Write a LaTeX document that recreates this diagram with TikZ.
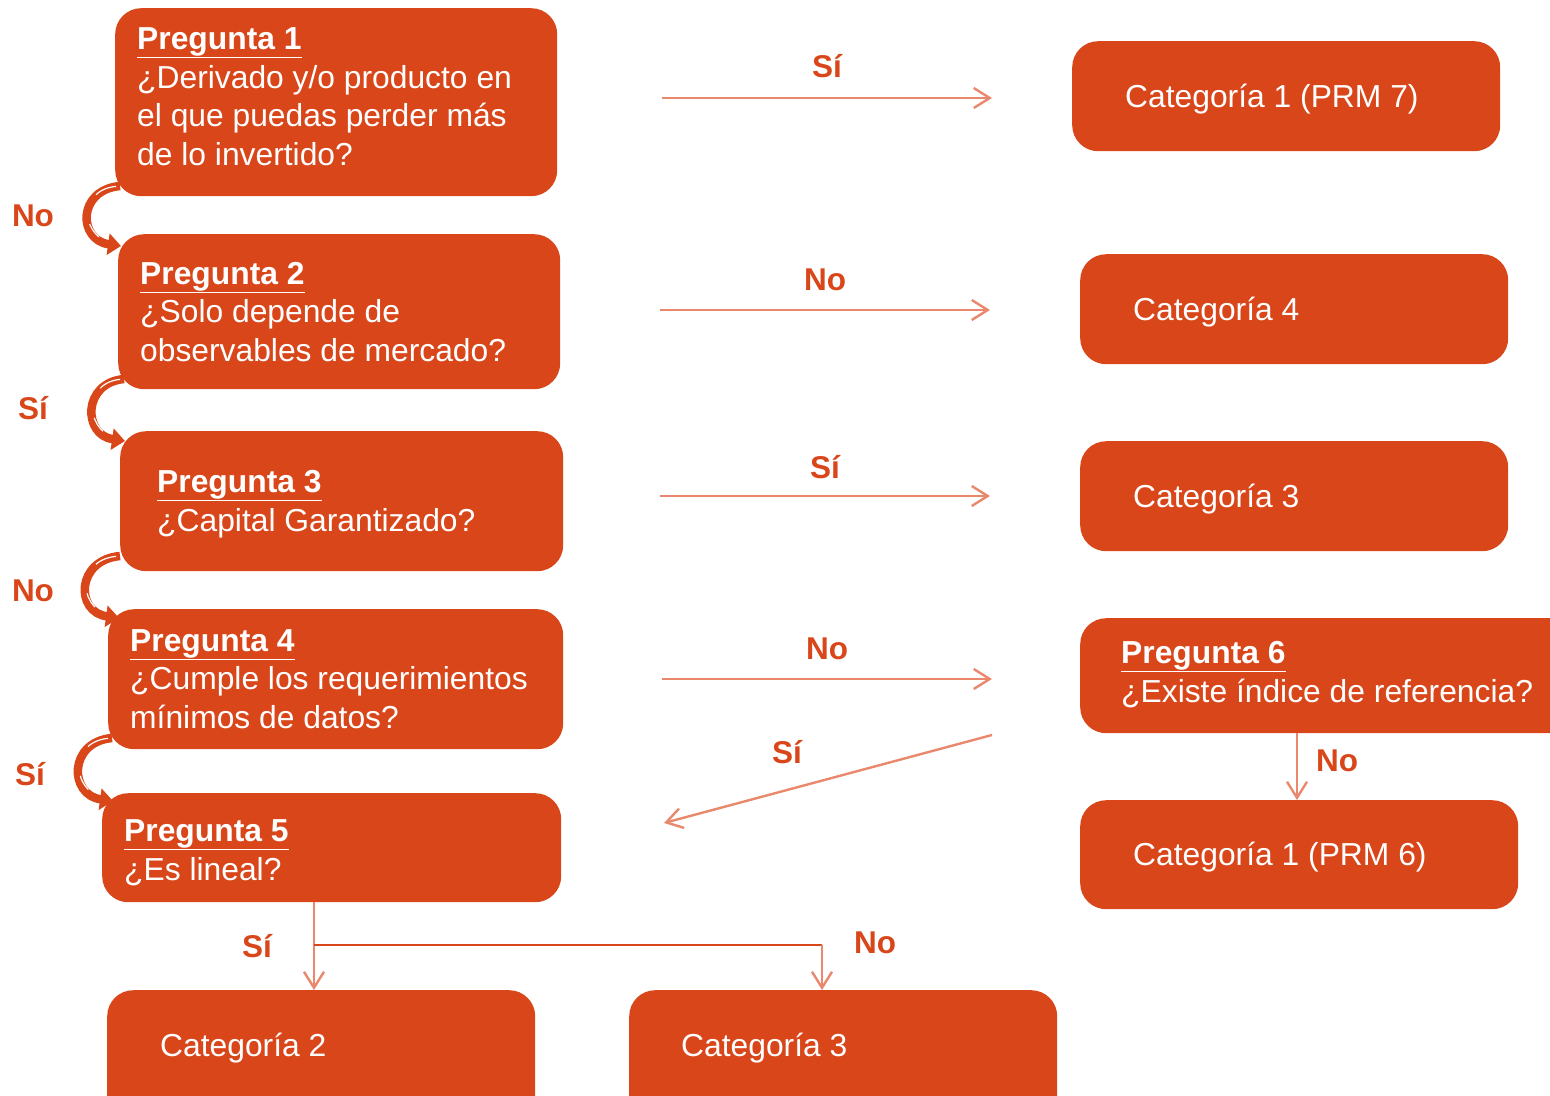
\documentclass[tikz,border=0pt]{standalone}
\usepackage{fontspec}
\setmainfont{Liberation Sans}
\usetikzlibrary{arrows.meta,calc}
\definecolor{boxc}{HTML}{D8461A}
\definecolor{linec}{HTML}{E9886C}
\begin{document}
\begin{tikzpicture}[x=1pt,y=-1pt,
  box/.style={fill=boxc,draw=none,rounded corners=26pt,minimum width=#1,inner sep=0pt,anchor=north west},
  txt/.style={text=white,font=\fontsize{31.8}{38.5}\selectfont,align=left,anchor=base west,inner sep=0pt},
  lab/.style={text=boxc,font=\fontsize{31.5}{34}\selectfont\bfseries,inner sep=0pt},
  conn/.style={draw=linec,line width=2.4pt,-{Straight Barb[length=16pt,width=20pt,line width=2.4pt]}},
  curv/.style={draw=boxc,line width=8.5pt,-{Triangle[length=13pt,width=21pt]}},
  hl/.style={draw=white,line width=1.2pt,dash pattern=on 22pt off 32pt on 16pt off 200pt,shorten <=4pt}
]
\useasboundingbox (0,0) rectangle (1550,1095);
% boxes
\node[box=442pt,minimum height=188pt] (p1) at (115,8) {};
\node[box=442pt,minimum height=155pt] (p2) at (118,234) {};
\node[box=443pt,minimum height=140pt] (p3) at (120,431) {};
\node[box=455pt,minimum height=140pt] (p4) at (108,609) {};
\node[box=459pt,minimum height=109pt] (p5) at (102,793) {};
\node[box=428pt,minimum height=140pt] (c2) at (107,990) {};
\node[box=428pt,minimum height=140pt] (c3b) at (629,990) {};
\node[box=428pt,minimum height=110pt] (c1a) at (1072,41) {};
\node[box=428pt,minimum height=110pt] (c4) at (1080,254) {};
\node[box=428pt,minimum height=110pt] (c3r) at (1080,441) {};
\node[box=500pt,minimum height=115pt] (p6) at (1080,618) {};
\node[box=438pt,minimum height=109pt] (c1b) at (1080,800) {};
% texts (anchored at the baseline of the last line)
\node[txt] (t1) at (137,165) {\underline{\textbf{Pregunta 1}}\\¿Derivado y/o producto en\\el que puedas perder más\\de lo invertido?};
\node[txt] (t2) at (140,361) {\underline{\textbf{Pregunta 2}}\\¿Solo depende de\\observables de mercado?};
\node[txt] (t3) at (157,531) {\underline{\textbf{Pregunta 3}}\\¿Capital Garantizado?};
\node[txt] (t4) at (130,728) {\underline{\textbf{Pregunta 4}}\\¿Cumple los requerimientos\\mínimos de datos?};
\node[txt] (t5) at (124,880) {\underline{\textbf{Pregunta 5}}\\¿Es lineal?};
\node[txt] (t6) at (1121,702) {\underline{\textbf{Pregunta 6}}\\¿Existe índice de referencia?};
\node[txt] (tc1a) at (1125,107) {Categoría 1 (PRM 7)};
\node[txt] (tc4) at (1133,320) {Categoría 4};
\node[txt] (tc3r) at (1133,507) {Categoría 3};
\node[txt] (tc1b) at (1133,865) {Categoría 1 (PRM 6)};
\node[txt] (tc2) at (160,1056) {Categoría 2};
\node[txt] (tc3b) at (681,1056) {Categoría 3};
% horizontal connectors
\coordinate (a1s) at (662,98); \coordinate (a1e) at (992,98);
\coordinate (a2s) at (660,310); \coordinate (a2e) at (990,310);
\coordinate (a3s) at (660,496); \coordinate (a3e) at (990,496);
\coordinate (a4s) at (662,679); \coordinate (a4e) at (992,679);
\coordinate (a5s) at (992,735); \coordinate (a5e) at (664,823);
\draw[conn] (a1s) -- (a1e);
\draw[conn] (a2s) -- (a2e);
\draw[conn] (a3s) -- (a3e);
\draw[conn] (a4s) -- (a4e);
\draw[conn] (a5s) -- (a5e);
\draw[conn] (p6.south west -| 1297,0) -- (c1b.north west -| 1297,0);
\coordinate (br) at (314,945);
\coordinate (bl) at (822,945);
\draw[conn] (p5.south west -| br) -- (c2.north west -| br);
\draw[draw=boxc,line width=2.4pt] (br) -- (bl);
\draw[conn] (bl) -- (c3b.north west -| bl);
% labels
\node[lab] (l1) at (827,66) {Sí};
\node[lab] (l2) at (825,280) {No};
\node[lab] (l3) at (825,467) {Sí};
\node[lab] (l4) at (827,649) {No};
\node[lab] (l5) at (787,752) {Sí};
\node[lab] (l6) at (33,216) {No};
\node[lab] (l7) at (33,408) {Sí};
\node[lab] (l8) at (33,591) {No};
\node[lab] (l9) at (30,774) {Sí};
\node[lab] (l10) at (1337,761) {No};
\node[lab] (l11) at (257,946) {Sí};
\node[lab] (l12) at (875,943) {No};
% curved arrows
\coordinate (c1s) at (120,186); \coordinate (c1e) at (121,246);
\coordinate (c2s) at (124,379); \coordinate (c2e) at (125,441);
\coordinate (c3s) at (120,556); \coordinate (c3e) at (119,618);
\coordinate (c4s) at (112,738); \coordinate (c4e) at (113,801);
\foreach \s/\e/\d in {c1s/c1e/37,c2s/c2e/36,c3s/c3e/38,c4s/c4e/38}{
  \draw[curv] (\s) .. controls ($(\s)+(-\d-6,4)$) and ($(\e)+(-\d-6,-6)$) .. (\e);
  \draw[hl] (\s) .. controls ($(\s)+(-\d-6,4)$) and ($(\e)+(-\d-6,-6)$) .. (\e);
}
\end{tikzpicture}
\end{document}
